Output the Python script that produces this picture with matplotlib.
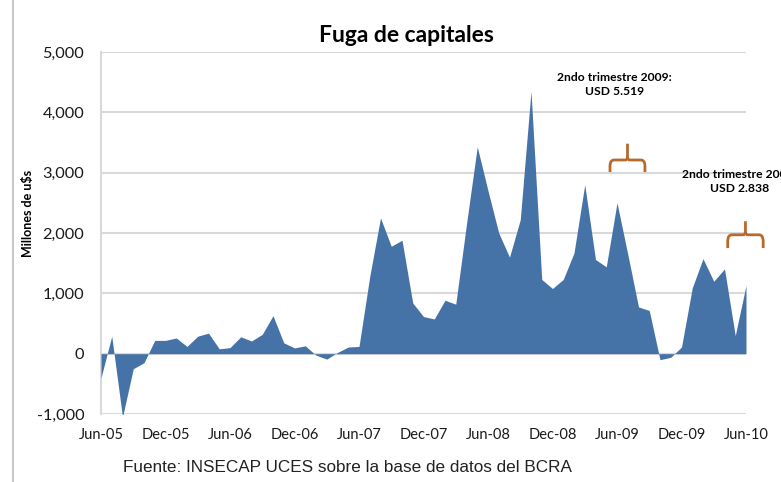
import matplotlib
matplotlib.use('Agg')
import matplotlib.pyplot as plt
from matplotlib.path import Path
from matplotlib.patches import PathPatch
from matplotlib.lines import Line2D
from matplotlib.ticker import FuncFormatter
import numpy as np

# monthly capital flight, Jun-05 .. Jun-10 (millones de u$s)
fuga = [-400, 290, -1050, -250, -150, 220, 220, 260, 120, 290,
        340, 80, 100, 280, 210, 320, 630, 180, 95, 130,
        -25, -90, 20, 110, 120, 1280, 2250, 1780, 1880, 840,
        615, 575, 885, 820, 2150, 3430, 2700, 2000, 1600, 2220,
        4350, 1230, 1080, 1230, 1670, 2800, 1560, 1440, 2500, 1650,
        775, 715, -100, -60, 110, 1090, 1575, 1200, 1405, 300,
        1130]
tick_pos = [0, 6, 12, 18, 24, 30, 36, 42, 48, 54, 60]
tick_labels = ["Jun-05", "Dec-05", "Jun-06", "Dec-06", "Jun-07", "Dec-07",
               "Jun-08", "Dec-08", "Jun-09", "Dec-09", "Jun-10"]
y_ticks = [-1000, 0, 1000, 2000, 3000, 4000, 5000]

blue = '#4573A7'
grid_c = '#D9D9D9'
brace_c = '#B8692C'

W, H = 781, 482
fig = plt.figure(figsize=(W / 100, H / 100), dpi=100)
ax = fig.add_axes([101 / W, 1 - 414 / H, (746 - 101) / W, (414 - 52) / H])

x = np.arange(len(fuga))
ax.fill_between(x, fuga, 0, color=blue, linewidth=0, zorder=3)

ax.set_xlim(0, len(fuga) - 1)
ax.set_ylim(-1000, 5000)
ax.set_yticks(y_ticks)
ax.yaxis.set_major_formatter(FuncFormatter(lambda v, p: f"{int(v):,}"))
ax.set_xticks(tick_pos)
ax.set_xticklabels(tick_labels)
ax.tick_params(axis='both', length=0, colors='#1a1a1a')
ax.tick_params(axis='y', labelsize=11.8, pad=12)
ax.tick_params(axis='x', labelsize=10.5, pad=10)
for lab in ax.get_xticklabels() + ax.get_yticklabels():
    lab.set_family('Lato')

ax.grid(axis='y', color=grid_c, linewidth=1.5, zorder=1)
for s in ['top', 'right', 'bottom']:
    ax.spines[s].set_visible(False)
ax.spines['left'].set_color(grid_c)
ax.spines['left'].set_linewidth(1.5)

ax.set_ylabel("Millones de u$s", fontsize=9, fontweight='bold', family='Lato')
ax.yaxis.set_label_coords(-0.104, 0.555)

fig.text(406 / W, 1 - 36 / H, "Fuga de capitales", ha='center', va='center',
         fontsize=16.5, fontweight='bold', family='Lato')

fig.text(123 / W, 1 - 467 / H, "Fuente: INSECAP UCES sobre la base de datos del BCRA",
         ha='left', va='center', fontsize=12.3, family='Liberation Sans', color='#222222')

# annotations
ax.text(47.8, 4460, "2ndo trimestre 2009:\nUSD 5.519", ha='center', va='center',
        fontsize=8.7, fontweight='bold', family='Lato', linespacing=1.35, zorder=5)
ax.text(59.4, 2850, "2ndo trimestre 2009:\nUSD 2.838", ha='center', va='center',
        fontsize=8.7, fontweight='bold', family='Lato', linespacing=1.35,
        clip_on=False, zorder=5)


def brace(x0, x1, y_end, y_bar, y_top):
    xc = (x0 + x1) / 2
    rx = (x1 - x0) * 0.12
    ry = (y_bar - y_end) * 0.5
    verts = [(x0, y_end), (x0, y_bar - ry), (x0, y_bar), (x0 + rx, y_bar),
             (xc - rx * 0.6, y_bar), (xc, y_bar), (xc, y_bar + ry * 0.4),
             (xc, y_top)]
    codes = [Path.MOVETO, Path.LINETO, Path.CURVE3, Path.CURVE3,
             Path.LINETO, Path.CURVE3, Path.CURVE3, Path.LINETO]
    p1 = PathPatch(Path(verts, codes), fill=False, edgecolor=brace_c,
                   linewidth=2, capstyle='butt', clip_on=False, zorder=6)
    verts2 = [(x1, y_end), (x1, y_bar - ry), (x1, y_bar), (x1 - rx, y_bar),
              (xc + rx * 0.6, y_bar), (xc, y_bar), (xc, y_bar + ry * 0.4)]
    codes2 = [Path.MOVETO, Path.LINETO, Path.CURVE3, Path.CURVE3,
              Path.LINETO, Path.CURVE3, Path.CURVE3]
    p2 = PathPatch(Path(verts2, codes2), fill=False, edgecolor=brace_c,
                   linewidth=2, capstyle='butt', clip_on=False, zorder=6)
    ax.add_patch(p1)
    ax.add_patch(p2)


brace(47.35, 50.6, 3010, 3210, 3480)
brace(58.3, 61.6, 1750, 1970, 2195)

# thin frame line at left of the picture
fig.add_artist(Line2D([13 / W, 13 / W], [0, 1], color='#C8C8C8', linewidth=1.5))

fig.savefig('out.png', dpi=100)
